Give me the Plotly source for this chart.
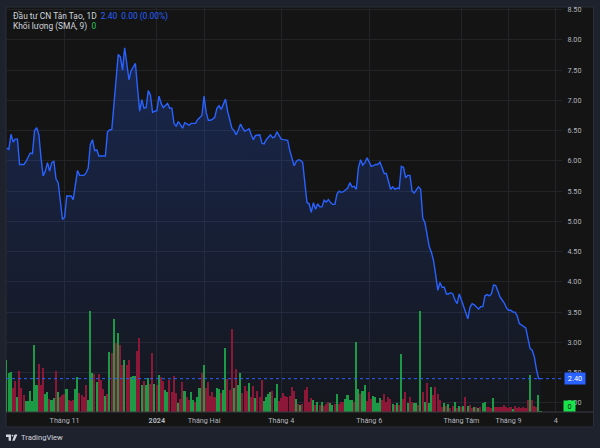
import plotly.graph_objects as go

# ---------------- data ----------------
price = [
    6.21, 6.19, 6.44, 6.31, 6.36, 6.36, 5.94, 5.94, 5.94, 5.99,
    6.05, 6.13, 6.12, 6.50, 6.55, 6.43, 6.05, 5.75, 5.83, 5.97,
    5.83, 5.97, 5.99, 5.70, 5.64, 5.36, 5.03, 5.07, 5.42, 5.42,
    5.42, 5.36, 5.64, 5.84, 5.76, 5.76, 5.76, 5.80, 5.88, 6.27,
    6.35, 6.17, 6.18, 6.08, 6.08, 6.08, 6.08, 6.48, 6.51, 6.52,
    6.93, 7.36, 7.76, 7.72, 7.50, 7.87, 7.64, 7.34, 7.49, 7.55,
    7.61, 7.20, 6.82, 7.01, 6.87, 6.88, 7.16, 7.09, 6.80, 6.82,
    6.83, 7.07, 6.95, 6.88, 6.92, 6.95, 6.87, 6.87, 6.62, 6.57,
    6.65, 6.60, 6.54, 6.63, 6.61, 6.59, 6.62, 6.62, 6.62, 6.68,
    6.72, 6.75, 7.07, 6.80, 6.67, 6.67, 6.69, 6.72, 6.87, 6.91,
    6.85, 6.94, 7.02, 6.82, 6.70, 6.54, 6.50, 6.43, 6.51, 6.61,
    6.54, 6.49, 6.51, 6.53, 6.43, 6.35, 6.42, 6.43, 6.43, 6.29,
    6.28, 6.35, 6.40, 6.43, 6.38, 6.40, 6.48, 6.43, 6.36, 6.35,
    6.35, 6.34, 6.17, 6.02, 5.92, 5.99, 6.02, 6.01, 5.97, 5.64,
    5.31, 5.29, 5.15, 5.31, 5.20, 5.29, 5.24, 5.24, 5.35, 5.32,
    5.36, 5.31, 5.28, 5.28, 5.45, 5.50, 5.48, 5.49, 5.52, 5.55,
    5.64, 5.57, 5.58, 5.53, 5.89, 6.02, 5.93, 5.97, 6.05, 5.97,
    5.91, 5.92, 5.94, 5.94, 5.98, 5.89, 5.79, 5.79, 5.64, 5.53,
    5.57, 5.53, 5.55, 5.54, 5.91, 5.89, 5.72, 5.76, 5.76, 5.50,
    5.47, 5.53, 5.57, 5.53, 5.05, 4.98, 4.80, 4.58, 4.49, 4.35,
    4.12, 3.86, 3.99, 3.91, 3.91, 3.80, 3.80, 3.82, 3.80, 3.70,
    3.64, 3.80, 3.70, 3.60, 3.50, 3.39, 3.58, 3.64, 3.62, 3.59,
    3.55, 3.59, 3.59, 3.77, 3.79, 3.77, 3.80, 3.95, 3.94, 3.85,
    3.75, 3.70, 3.65, 3.57, 3.53, 3.53, 3.50, 3.50, 3.44, 3.31,
    3.29, 3.27, 3.24, 3.07, 2.90, 2.87, 2.76, 2.55, 2.40, 2.40,
]

# volume, in units of 10,000 shares
volume = [
    52, 39, 40, 24, 31, 15, 41, 24, 17, 11, 11, 21, 11, 68, 27, 48, 27, 44, 18, 20,
    13, 12, 14, 41, 20, 15, 17, 18, 23, 12, 11, 12, 23, 35, 19, 17, 15, 27, 12, 102,
    39, 38, 30, 38, 32, 23, 16, 18, 60, 59, 94, 70, 80, 68, 47, 52, 47, 52, 35, 36,
    36, 61, 75, 27, 31,
    27, 34, 28, 59, 28, 27, 37, 35, 31, 22, 20, 32, 20, 36, 19, 9, 13, 30, 21, 15,
    12, 20, 12, 10, 15, 24, 39, 47, 24, 30, 16, 20, 15, 24, 23, 19, 22, 64, 33, 22,
    84, 24, 43, 27, 39, 19, 26, 21, 29, 15, 26, 14, 21, 15, 32, 11, 15, 18, 20, 21,
    14, 28, 11, 14, 19, 16,
    15, 16, 25, 21, 13, 8, 7, 8, 22, 25, 10, 14, 12, 7, 10, 7, 10, 6, 8, 10,
    9, 7, 8, 18, 8, 10, 10, 13, 17, 12, 12, 10, 71, 23, 18, 21, 27, 11, 20, 13,
    16, 15, 9, 14, 12, 18, 10, 15, 13, 8, 7, 9, 7, 58, 13, 20, 9, 15, 10, 9,
    9, 7, 102, 20,
    10, 29, 9, 25, 17, 25, 18, 12, 5, 9, 6, 8, 4, 6, 10, 4, 6, 5, 6, 15,
    6, 7, 4, 5, 5, 4, 5, 9, 10, 5, 5, 4, 14, 5, 5, 5, 5, 7, 5, 4,
    5, 3, 6, 4, 5, 4, 5, 4, 12, 37, 12, 6, 5, 17, 1,
]

# g = up bar, r = down bar
vol_dir = (
    "gggrrgrrrg" "gggggrrrgg" "rggrgrrrgr" "rrggrrrrgg" "grgrrrgrgr" "grgrrgrrgg" "grrgr"
    "ggrrgrgrrg" "grrrrgrrgr" "rggrggrgrr" "rrrggrggrr" "rgrggrrrgr" "rgrrrggggr" "ggrrrr"
    "rrrrgrgrrr" "rrgrgrgrrr" "ggrgrrrggg" "grggrggrrr" "ggggrrrrrg" "rgrgrrgrrg" "grgr"
    "grggrrrrrg" "rgrrgrgrgr" "grrgrgrggr" "rrgrrrrrrr" "rgrrrrrrrg" "rrrgg"
)

tick_bars = [27, 70, 92, 128, 169, 212, 234, 256]
tick_labels = ["Tháng 11", "<b>2024</b>", "Tháng Hai", "Tháng 4", "Tháng 6",
               "Tháng Tám", "Tháng 9", "4"]
price_ticks = [2.0, 2.5, 3.0, 3.5, 4.0, 4.5, 5.0, 5.5, 6.0, 6.5, 7.0, 7.5, 8.0, 8.5]

title_text = "Đầu tư CN Tân Tạo, 1D"
vol_text = "Khối lượng (SMA, 9)"

# ---------------- styling ----------------
W, H = 600, 448
ML, MR, MT, MB = 6, 38, 5, 36
PW, PH = W - ML - MR, H - MT - MB

OUTER = "#1e222d"
PANE = "#141414"
GRID = "#232427"
TXT = "#b2b5be"
BLUE = "#2962ff"
GREEN = "#1c9a45"
RED = "#8c1736"
FONT = "Roboto"


def px_x(x):
    return (x - ML) / PW


def px_y(y):
    return (H - MB - y) / PH


n = len(price)
bars = list(range(n))
last_price = price[-1]
prev_price = price[-2]
chg = last_price - prev_price
chg_pct = chg / prev_price * 100 if prev_price else 0.0

vol_colors = [GREEN if c == "g" else RED for c in vol_dir]

y_lo, y_hi = 1.849, 8.543
x_lo, x_hi = -0.33, 258.9

fig = go.Figure()

# area fill under price
fig.add_trace(go.Scatter(
    x=bars, y=price, mode="lines", line=dict(width=0, color=BLUE),
    fill="tozeroy",
    fillgradient=dict(type="vertical",
                      colorscale=[[0, "rgba(41,98,255,0.04)"], [1, "rgba(41,98,255,0.25)"]],
                      start=y_lo, stop=max(price)),
    hoverinfo="skip", showlegend=False, yaxis="y",
))

# volume bars
fig.add_trace(go.Bar(
    x=bars, y=volume, marker=dict(color=vol_colors, line=dict(width=0)),
    width=0.72, showlegend=False, yaxis="y2",
))

# price line
fig.add_trace(go.Scatter(
    x=bars, y=price, mode="lines", line=dict(width=1.4, color=BLUE),
    showlegend=False, yaxis="y3",
))

shapes = [
    # pane background and border
    dict(type="rect", xref="paper", yref="paper",
         x0=px_x(6), x1=px_x(593.5), y0=px_y(427), y1=px_y(5),
         fillcolor=PANE, line=dict(color="#2a2e39", width=1), layer="below"),
    # time-axis separator
    dict(type="line", xref="paper", yref="paper",
         x0=px_x(6), x1=px_x(593.5), y0=0, y1=0,
         line=dict(color="#3a3d45", width=1), layer="above"),
    # last price dotted line
    dict(type="line", xref="paper", yref="y3", x0=0, x1=1,
         y0=last_price, y1=last_price,
         line=dict(color=BLUE, width=1, dash="dot"), layer="above"),
]

# TradingView logo glyph
shapes += [
    dict(type="path", xref="paper", yref="paper",
         path=(f"M{px_x(6)},{px_y(434.5)} L{px_x(11)},{px_y(434.5)} L{px_x(11)},{px_y(441)} "
               f"L{px_x(8.6)},{px_y(441)} L{px_x(8.6)},{px_y(437)} L{px_x(6)},{px_y(437)} Z"),
         fillcolor="#d1d4dc", line=dict(width=0)),
    dict(type="circle", xref="paper", yref="paper",
         x0=px_x(11.6), x1=px_x(13.4), y0=px_y(436.6), y1=px_y(434.8),
         fillcolor="#d1d4dc", line=dict(width=0)),
    dict(type="path", xref="paper", yref="paper",
         path=(f"M{px_x(14.6)},{px_y(434.5)} L{px_x(17.4)},{px_y(434.5)} L{px_x(14.6)},{px_y(441)} "
               f"L{px_x(12.2)},{px_y(441)} Z"),
         fillcolor="#d1d4dc", line=dict(width=0)),
]

annotations = [
    dict(xref="paper", yref="paper", x=px_x(10.5), y=px_y(14.5), xanchor="left", yanchor="middle",
         showarrow=False,
         text=(f"<span style='color:#d1d4dc'>{title_text}</span>  "
               f"<span style='color:{BLUE}'>{last_price:.2f}  {chg:.2f} ({chg_pct:.2f}%)</span>"),
         font=dict(family=FONT, size=8.4)),
    dict(xref="paper", yref="paper", x=px_x(10.5), y=px_y(24.5), xanchor="left", yanchor="middle",
         showarrow=False,
         text=(f"<span style='color:#d1d4dc'>{vol_text}</span>  "
               f"<span style='color:#22c55e'>0</span>"),
         font=dict(family=FONT, size=8.4)),
    # last price label
    dict(xref="paper", yref="y3", x=px_x(563.5), y=last_price, xanchor="left", yanchor="middle",
         showarrow=False, text=f"{last_price:.2f}", bgcolor=BLUE, width=20, height=11,
         align="center", font=dict(family=FONT, size=7.4, color="#ffffff"), borderpad=0),
    # last volume label
    dict(xref="paper", yref="paper", x=px_x(563), y=px_y(412), xanchor="left", yanchor="bottom",
         showarrow=False, text="0", bgcolor="#19e34a", width=11, height=10,
         align="center", font=dict(family=FONT, size=7.4, color="#0b2a12"), borderpad=0),
    # TradingView wordmark
    dict(xref="paper", yref="paper", x=px_x(18.5), y=px_y(438), xanchor="left", yanchor="middle",
         showarrow=False, text="TradingView",
         font=dict(family=FONT, size=7.6, color="#d1d4dc")),
]

fig.update_layout(
    width=W, height=H,
    margin=dict(l=ML, r=MR, t=MT, b=MB),
    paper_bgcolor=OUTER, plot_bgcolor="rgba(0,0,0,0)",
    font=dict(family=FONT, size=7.2, color=TXT),
    showlegend=False,
    bargap=0,
    xaxis=dict(range=[x_lo, x_hi], tickmode="array", tickvals=tick_bars, ticktext=tick_labels,
               showgrid=True, gridcolor=GRID, gridwidth=1, zeroline=False, showline=False,
               ticks="outside", ticklen=1, tickcolor="rgba(0,0,0,0)",
               tickfont=dict(family=FONT, size=7.2, color=TXT), fixedrange=True),
    yaxis=dict(range=[y_lo, y_hi], side="right", tickmode="array", tickvals=price_ticks,
               tickformat=".2f", showgrid=True, gridcolor=GRID, gridwidth=1, zeroline=False,
               showline=False, ticks="outside", ticklen=3, tickcolor="rgba(0,0,0,0)",
               tickfont=dict(family=FONT, size=7.2, color=TXT)),
    yaxis2=dict(range=[0, max(volume) * 4], overlaying="y", visible=False),
    yaxis3=dict(range=[y_lo, y_hi], overlaying="y", visible=False),
    shapes=shapes,
    annotations=annotations,
)

fig.write_html(
    "out.html",
    config={"displayModeBar": False},
    post_script="document.body.style.margin='0';document.body.style.background='#1e222d';",
)
